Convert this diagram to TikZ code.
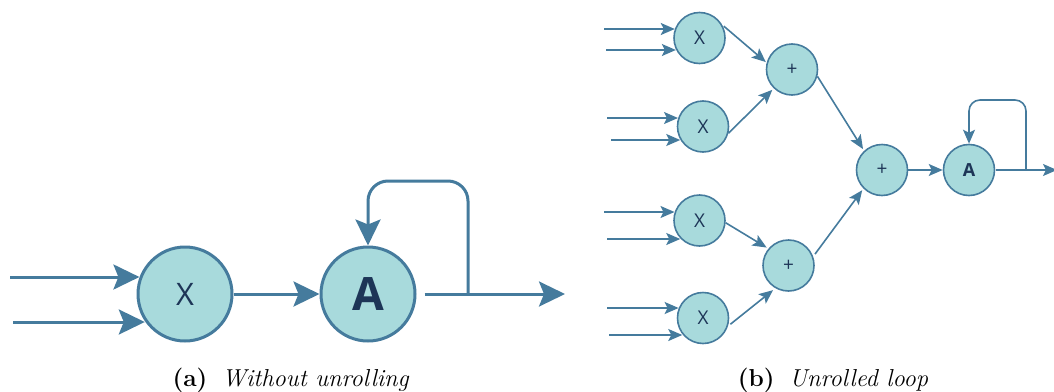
\documentclass[tikz,border=0pt]{standalone}
\usepackage{fontspec}
\newfontfamily\diagfont{Open Sans}
\usetikzlibrary{arrows.meta}
\definecolor{edgec}{HTML}{457B9D}
\definecolor{fillc}{HTML}{A8DADC}
\definecolor{txtc}{HTML}{1D3557}
\tikzset{
  bigc/.style={circle, draw=edgec, fill=fillc, line width=3pt, minimum size=94pt, inner sep=0pt, text=txtc},
  smallc/.style={circle, draw=edgec, fill=fillc, line width=1.6pt, minimum size=51pt, inner sep=0pt, text=txtc},
  bigarr/.style={draw=edgec, line width=3pt, -{Stealth[length=26pt,width=25pt,inset=5pt]}},
  smallarr/.style={draw=edgec, line width=1.6pt, -{Stealth[length=14pt,width=12pt,inset=3pt]}},
  capt/.style={inner sep=0pt, anchor=base, font=\fontsize{24.5}{28}\selectfont}
}
\begin{document}
\begin{tikzpicture}[x=1pt,y=-1pt]
\useasboundingbox (0,0) rectangle (1054,391);
% ---------- (a) ----------
\node[bigc, font=\diagfont\fontsize{31}{31}\selectfont] (X) at (185,294) {X};
\node[bigc, font=\diagfont\bfseries\fontsize{46}{46}\selectfont] (A) at (368,294) {A};
\coordinate (ia1) at (10,277);
\coordinate (ia2) at (13,322);
\draw[bigarr] (ia1) -- (ia1 -| X.160);
\draw[bigarr] (ia2) -- (ia2 -| X.214);
\draw[bigarr] (X) -- (A);
\coordinate (oa) at ([xshift=8pt]A.east);
\coordinate (oe) at (565,294);
\coordinate (fb) at (468,294);
\coordinate (fbt) at (468,181);
\draw[bigarr] (oa) -- (oe);
\draw[bigarr, rounded corners=20pt] (fb) -- (fbt) -- (fbt -| A.north) -- (A.north);
\node[capt] (ca) at (291,386) {\textbf{(a)}\hspace{0.6em}\textit{Without unrolling}};
% ---------- (b) ----------
\begin{scope}[every node/.append style={smallc}]
\node[font=\diagfont\fontsize{19}{19}\selectfont] (X1) at (699.5,38) {X};
\node[font=\diagfont\fontsize{19}{19}\selectfont] (X2) at (703,126.5) {X};
\node[font=\diagfont\fontsize{19}{19}\selectfont] (X3) at (699.5,220.5) {X};
\node[font=\diagfont\fontsize{19}{19}\selectfont] (X4) at (703,318) {X};
\node[font=\diagfont\fontsize{19}{19}\selectfont] (P1) at (792,69.5) {+};
\node[font=\diagfont\fontsize{19}{19}\selectfont] (P2) at (788.5,265.5) {+};
\node[font=\diagfont\fontsize{19}{19}\selectfont] (P3) at (882,170) {+};
\node[font=\diagfont\bfseries\fontsize{18}{18}\selectfont] (A2) at (969,170) {A};
\end{scope}
\coordinate (i11) at (604,29);  \coordinate (i12) at (606,50);
\coordinate (i21) at (607,118); \coordinate (i22) at (611,140);
\coordinate (i31) at (604,212); \coordinate (i32) at (607,239);
\coordinate (i41) at (607,308); \coordinate (i42) at (609,335);
\draw[smallarr] (i11) -- (i11 -| X1.160);
\draw[smallarr] (i12) -- (i12 -| X1.206);
\draw[smallarr] (i21) -- (i21 -| X2.162);
\draw[smallarr] (i22) -- (i22 -| X2.210);
\draw[smallarr] (i31) -- (i31 -| X3.162);
\draw[smallarr] (i32) -- (i32 -| X3.223);
\draw[smallarr] (i41) -- (i41 -| X4.158);
\draw[smallarr] (i42) -- (i42 -| X4.218);
\draw[smallarr, shorten <=2pt, shorten >=1pt] (X1.30) -- (P1.165);
\draw[smallarr, shorten >=2pt] (X2.345) -- (P1.226);
\draw[smallarr, shorten >=2pt] (P1.345) -- (P3.133);
\draw[smallarr, shorten <=3pt, shorten >=2pt] (P2.20) -- (P3.225);
\draw[smallarr, shorten >=2pt] (X3.355) -- (P2.140);
\draw[smallarr, shorten <=3pt, shorten >=3pt] (X4.342) -- (P2.240);
\draw[smallarr] (P3) -- (A2);
\coordinate (ob) at ([xshift=1pt]A2.east);
\coordinate (obe) at (1057,170);
\coordinate (fbb) at (1026,170);
\coordinate (fbbt) at (1026,100);
\draw[smallarr] (ob) -- (obe);
\draw[smallarr, rounded corners=11pt] (fbb) -- (fbbt) -- (fbbt -| A2.north) -- (A2.north);
\node[capt] (cb) at (833,386) {\textbf{(b)}\hspace{0.6em}\textit{Unrolled loop}};
\end{tikzpicture}
\end{document}
